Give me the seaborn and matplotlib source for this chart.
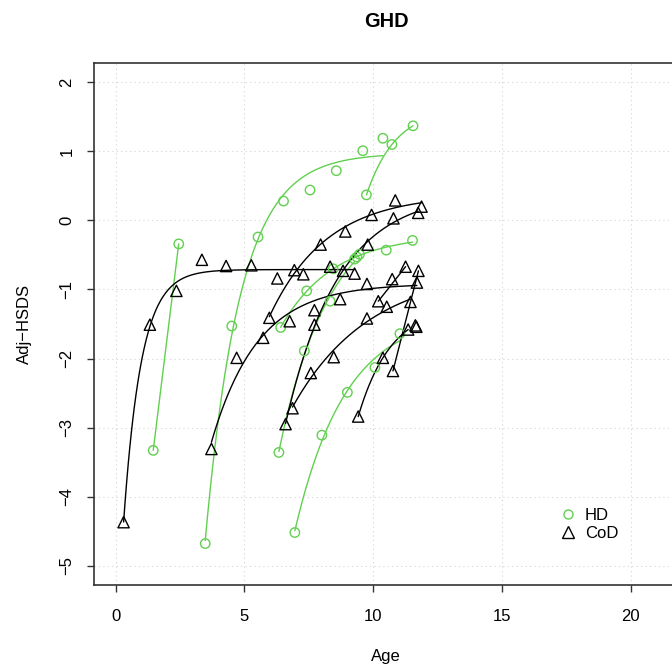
import numpy as np
import pandas as pd
import matplotlib
matplotlib.use("Agg")
import matplotlib.pyplot as plt
from matplotlib.lines import Line2D
import seaborn as sns

# --- data: one row per visit, grouped by subject ---
hd_subject = [1, 1,
              2, 2, 2, 2, 2, 2, 2, 2,
              3, 3, 3,
              4, 4, 4, 4,
              5, 5, 5, 5, 5, 5,
              6, 6, 6, 6, 6,
              7]
hd_age = [1.46, 2.45,
          3.48, 4.51, 5.53, 6.52, 7.55, 8.57, 9.60, 10.38,
          9.74, 10.73, 11.55,
          6.34, 7.33, 8.33, 9.28,
          6.41, 7.42, 8.45, 9.47, 10.51, 11.53,
          6.96, 8.01, 9.00, 10.07, 11.04,
          9.37]
hd_score = [-3.33, -0.34,
            -4.68, -1.53, -0.24, 0.28, 0.44, 0.72, 1.01, 1.19,
            0.37, 1.10, 1.37,
            -3.36, -1.89, -1.17, -0.56,
            -1.55, -1.02, -0.70, -0.49, -0.43, -0.29,
            -4.52, -3.11, -2.49, -2.13, -1.64,
            -0.53]

cod_subject = [1, 1, 1, 1, 1, 1, 1, 1, 1, 1,
               2, 2, 2, 2, 2, 2, 2, 2, 2,
               3, 3, 3, 3, 3, 3, 3,
               4, 4, 4, 4, 4, 4,
               5, 5, 5, 5, 5, 5,
               6, 6,
               7, 7,
               8, 8, 8,
               9, 10]
cod_age = [0.31, 1.33, 2.36, 3.35, 4.29, 5.27, 6.28, 7.29, 8.33, 9.28,
           3.72, 4.70, 5.73, 6.76, 7.72, 8.72, 9.76, 10.74, 11.70,
           5.97, 6.94, 7.96, 8.92, 9.94, 10.86, 11.88,
           6.60, 7.72, 8.83, 9.79, 10.79, 11.75,
           6.87, 7.58, 8.47, 9.76, 10.53, 11.45,
           10.20, 11.26,
           10.77, 11.76,
           9.42, 10.38, 11.36,
           11.64, 11.68]
cod_score = [-4.37, -1.51, -1.02, -0.57, -0.66, -0.65, -0.84, -0.78, -0.67, -0.77,
             -3.31, -1.99, -1.70, -1.46, -1.30, -1.14, -0.92, -0.85, -0.90,
             -1.41, -0.72, -0.35, -0.16, 0.08, 0.29, 0.20,
             -2.95, -1.51, -0.73, -0.35, 0.03, 0.11,
             -2.72, -2.21, -1.98, -1.42, -1.25, -1.18,
             -1.17, -0.67,
             -2.18, -0.73,
             -2.84, -1.99, -1.58,
             -1.52, -1.54]

GREEN = "#61D04F"
BLACK = "black"

hd = pd.DataFrame({"subject": hd_subject, "age": hd_age, "score": hd_score})
cod = pd.DataFrame({"subject": cod_subject, "age": cod_age, "score": cod_score})


def fit_curve(x, y, n=150):
    # asymptotic growth curve a + b*exp(-c*(x - x0)), c found by grid search
    x = np.asarray(x, float)
    y = np.asarray(y, float)
    xs = np.linspace(x.min(), x.max(), n)
    if len(x) < 3:
        return xs, np.interp(xs, x, y)
    x0 = x.min()
    best = None
    for c in np.logspace(-2, 1.4, 400):
        A = np.column_stack([np.ones_like(x), np.exp(-c * (x - x0))])
        coef, *_ = np.linalg.lstsq(A, y, rcond=None)
        sse = ((A @ coef - y) ** 2).sum()
        if best is None or sse < best[0]:
            best = (sse, c, coef)
    _, c, coef = best
    return xs, coef[0] + coef[1] * np.exp(-c * (xs - x0))


def fitted_frame(df):
    rows = []
    for sid, g in df.groupby("subject"):
        if len(g) < 2:
            continue
        xs, ys = fit_curve(g["age"], g["score"])
        rows.append(pd.DataFrame({"subject": sid, "age": xs, "score": ys}))
    return pd.concat(rows, ignore_index=True)


hd_fit = fitted_frame(hd)
cod_fit = fitted_frame(cod)

# --- plot ---
sns.set_theme(style="white")
plt.rcParams["font.family"] = ["Liberation Sans", "DejaVu Sans"]
plt.rcParams["text.color"] = "black"
plt.rcParams["axes.labelcolor"] = "black"
plt.rcParams["xtick.color"] = "black"
plt.rcParams["ytick.color"] = "black"

fig = plt.figure(figsize=(6.72, 6.71), dpi=100)
ax = fig.add_axes([94 / 672, 1 - 585 / 671, 584 / 672, 522 / 671])

sns.lineplot(data=hd_fit, x="age", y="score", units="subject", estimator=None,
             sort=False, color=GREEN, lw=1.0, ax=ax, zorder=3)
sns.lineplot(data=cod_fit, x="age", y="score", units="subject", estimator=None,
             sort=False, color=BLACK, lw=1.0, ax=ax, zorder=3)

sns.scatterplot(data=hd, x="age", y="score", marker="o", s=46,
                facecolors="none", edgecolor=GREEN, linewidth=1.0, ax=ax, zorder=4)
sns.scatterplot(data=cod, x="age", y="score", marker="^", s=66,
                facecolors="none", edgecolor=BLACK, linewidth=1.0, ax=ax, zorder=4)

ax.set_xlim(-0.84, 21.84)
ax.set_ylim(-5.28, 2.28)
ax.set_xticks([0, 5, 10, 15, 20])
ax.set_yticks(range(-5, 3))
ax.set_yticklabels([str(v).replace("-", "\u2212") for v in range(-5, 3)])

ax.grid(True, color="#d3d3d3", linestyle=(0, (1, 3)), linewidth=0.8, zorder=0)
for sp in ax.spines.values():
    sp.set_visible(True)
    sp.set_color("#333333")
    sp.set_linewidth(1.2)

ax.tick_params(axis="both", direction="out", length=5, width=1, color="#333333",
               labelsize=12, labelcolor="black", bottom=True, left=True)
ax.tick_params(axis="x", pad=12)
ax.tick_params(axis="y", pad=9, labelrotation=90)
for lab in ax.get_yticklabels():
    lab.set_va("center")

ax.set_xlabel("Age", fontsize=12, color="black")
ax.set_ylabel("Adj\u2212HSDS", fontsize=12, color="black")
ax.xaxis.set_label_coords(0.5, -0.122)
ax.yaxis.set_label_coords(-0.107, 0.5)
ax.set_title("GHD", fontsize=14.4, fontweight="bold", pad=26, color="black")

handles = [
    Line2D([], [], ls="none", marker="o", ms=6.5, mfc="none", mec=GREEN, mew=1.0),
    Line2D([], [], ls="none", marker="^", ms=8.0, mfc="none", mec=BLACK, mew=1.0),
]
ax.legend(handles, ["HD", "CoD"], loc="upper left", frameon=False, fontsize=12,
          bbox_to_anchor=(559.7 / 672, 1 - 507.5 / 671), bbox_transform=fig.transFigure,
          borderpad=0, borderaxespad=0, handlelength=1.0, handletextpad=0.5,
          labelspacing=0.2)

fig.savefig("out.png", dpi=100)
